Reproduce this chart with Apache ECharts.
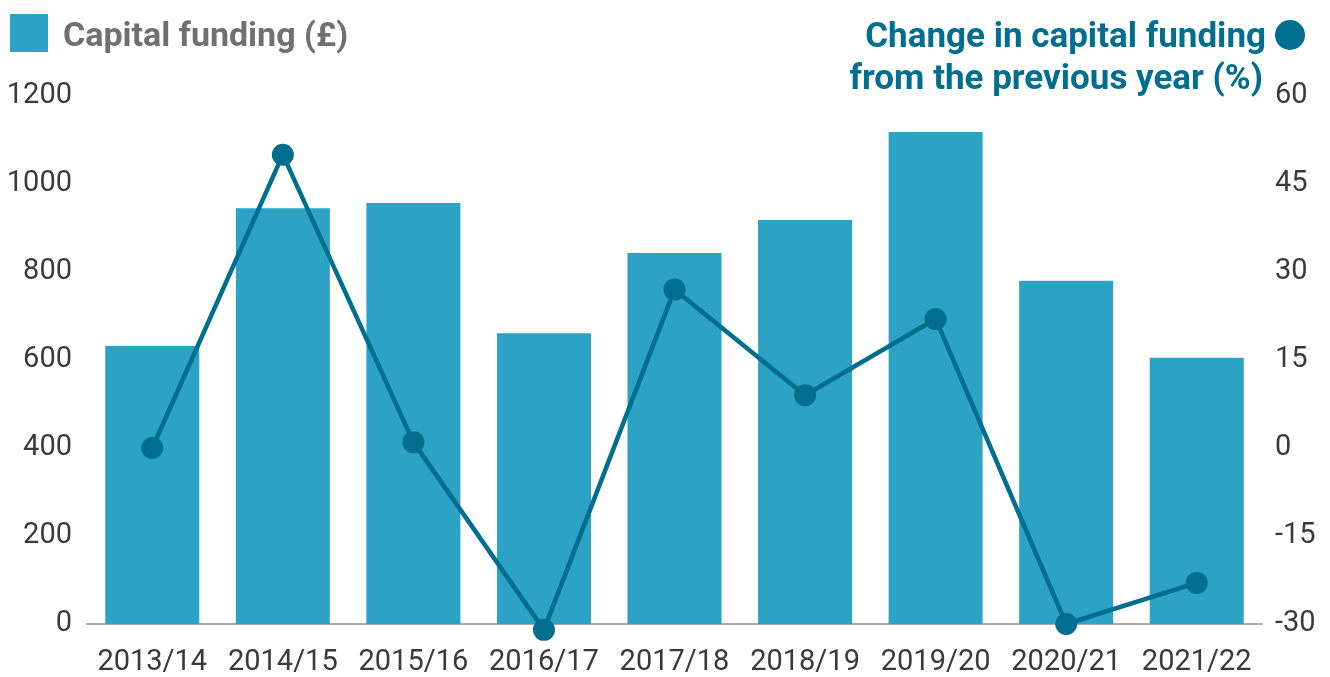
<!DOCTYPE html>
<html>
<head>
<meta charset="utf-8">
<script src="https://cdn.jsdelivr.net/npm/echarts@6/dist/echarts.min.js"></script>
<style>
  html, body { margin: 0; padding: 0; background: #fff; }
  #chart { width: 1330px; height: 677px; }
</style>
</head>
<body>
<div id="chart"></div>
<script>
// data
const years = ['2013/14', '2014/15', '2015/16', '2016/17', '2017/18', '2018/19', '2019/20', '2020/21', '2021/22'];
const funding = [632, 945, 957, 661, 843, 918, 1118, 780, 605];
const change = [0, 50, 1, -31, 27, 9, 22, -30, -23];

const barName = 'Capital funding (£)';
const lineName = 'Change in capital funding';

const chart = echarts.init(document.getElementById('chart'));
const font = 'Roboto, "Noto Sans", sans-serif';
const titleStyle = { fontFamily: font, fontSize: 35, fontWeight: 'bold', color: '#006e8f' };

const option = {
  animation: false,
  textStyle: { fontFamily: font },
  // right-hand axis caption, two lines right aligned
  title: [{
    text: 'Change in capital funding',
    right: 64, top: 21, padding: 0,
    textStyle: titleStyle
  }, {
    text: 'from the previous year (%)',
    right: 67, top: 63, padding: 0,
    textStyle: titleStyle
  }],
  legend: [{
    data: [barName],
    left: 5, top: 9,
    itemWidth: 38, itemHeight: 38, itemGap: 10,
    icon: 'rect',
    formatter: name => '{a|' + name + '}',
    textStyle: {
      rich: {
        a: { fontFamily: font, fontSize: 34, fontWeight: 'bold', color: '#707070', padding: [8, 0, 0, 10] }
      }
    },
    selectedMode: false
  }, {
    data: [{ name: lineName, icon: 'circle' }],
    right: 20, top: 15,
    itemWidth: 30, itemHeight: 30,
    formatter: () => '',
    selectedMode: false
  }],
  grid: { left: 87, right: 68, top: 96, bottom: 53 },
  xAxis: {
    type: 'category',
    data: years,
    axisTick: { show: false },
    axisLine: { lineStyle: { color: '#aaaaaa', width: 2 } },
    axisLabel: { fontFamily: font, fontSize: 29, color: '#3a3a3a', margin: 24, interval: 0 }
  },
  yAxis: [{
    type: 'value',
    min: 0, max: 1200, interval: 200,
    splitLine: { show: false },
    axisLine: { show: false },
    axisTick: { show: false },
    axisLabel: { fontFamily: font, fontSize: 29, color: '#3a3a3a', margin: 15, formatter: v => String(v) }
  }, {
    type: 'value',
    min: -30, max: 60, interval: 15,
    splitLine: { show: false },
    axisLine: { show: false },
    axisTick: { show: false },
    axisLabel: { fontFamily: font, fontSize: 29, color: '#3a3a3a', margin: 13 }
  }],
  series: [{
    name: barName,
    type: 'bar',
    data: funding,
    barWidth: '72%',
    itemStyle: { color: '#2ca2c4' }
  }, {
    name: lineName,
    type: 'line',
    yAxisIndex: 1,
    data: change,
    clip: false,
    symbol: 'circle',
    symbolSize: 22,
    z: 5,
    lineStyle: { color: '#006e8f', width: 4.5 },
    itemStyle: { color: '#006e8f' }
  }]
};

chart.setOption(option);
</script>
</body>
</html>
